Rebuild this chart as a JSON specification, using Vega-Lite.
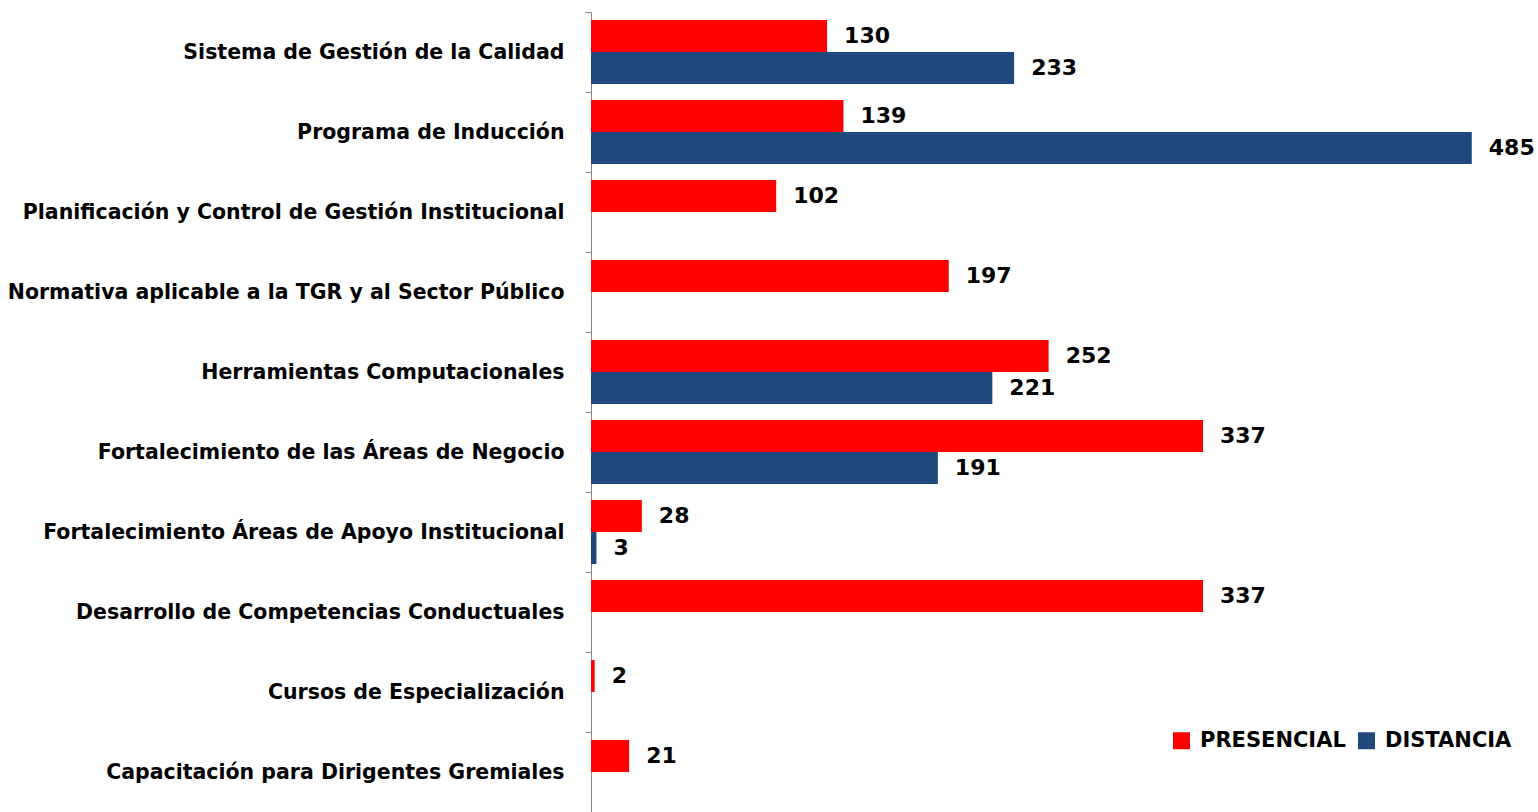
{
  "$schema": "https://vega.github.io/schema/vega-lite/v6.json",
  "autosize": {"type": "none"},
  "padding": {"left": 591, "top": 12, "right": 39, "bottom": 0},
  "width": 908,
  "height": 800,
  "config": {"view": {"stroke": null}, "font": "DejaVu Sans"},
  "data": {
    "values": [
      {"curso": "Sistema de Gestión de la Calidad", "modalidad": "PRESENCIAL", "valor": 130},
      {"curso": "Sistema de Gestión de la Calidad", "modalidad": "DISTANCIA", "valor": 233},
      {"curso": "Programa de Inducción", "modalidad": "PRESENCIAL", "valor": 139},
      {"curso": "Programa de Inducción", "modalidad": "DISTANCIA", "valor": 485},
      {"curso": "Planificación y Control de Gestión Institucional", "modalidad": "PRESENCIAL", "valor": 102},
      {"curso": "Normativa aplicable a la TGR y al Sector Público", "modalidad": "PRESENCIAL", "valor": 197},
      {"curso": "Herramientas Computacionales", "modalidad": "PRESENCIAL", "valor": 252},
      {"curso": "Herramientas Computacionales", "modalidad": "DISTANCIA", "valor": 221},
      {"curso": "Fortalecimiento de las Áreas de Negocio", "modalidad": "PRESENCIAL", "valor": 337},
      {"curso": "Fortalecimiento de las Áreas de Negocio", "modalidad": "DISTANCIA", "valor": 191},
      {"curso": "Fortalecimiento Áreas de Apoyo Institucional", "modalidad": "PRESENCIAL", "valor": 28},
      {"curso": "Fortalecimiento Áreas de Apoyo Institucional", "modalidad": "DISTANCIA", "valor": 3},
      {"curso": "Desarrollo de Competencias Conductuales", "modalidad": "PRESENCIAL", "valor": 337},
      {"curso": "Cursos de Especialización", "modalidad": "PRESENCIAL", "valor": 2},
      {"curso": "Capacitación para Dirigentes Gremiales", "modalidad": "PRESENCIAL", "valor": 21}
    ]
  },
  "encoding": {
    "y": {
      "field": "curso",
      "type": "nominal",
      "sort": [
        "Sistema de Gestión de la Calidad",
        "Programa de Inducción",
        "Planificación y Control de Gestión Institucional",
        "Normativa aplicable a la TGR y al Sector Público",
        "Herramientas Computacionales",
        "Fortalecimiento de las Áreas de Negocio",
        "Fortalecimiento Áreas de Apoyo Institucional",
        "Desarrollo de Competencias Conductuales",
        "Cursos de Especialización",
        "Capacitación para Dirigentes Gremiales"
      ],
      "scale": {"paddingInner": 0, "paddingOuter": 0},
      "axis": {
        "title": null,
        "tickBand": "extent",
        "domainColor": "#868686",
        "tickColor": "#868686",
        "tickSize": 6,
        "labelPadding": 21,
        "labelFontSize": 20.5,
        "labelFontWeight": "bold",
        "labelColor": "#000000",
        "labelLimit": 0
      }
    },
    "yOffset": {
      "field": "modalidad",
      "sort": ["PRESENCIAL", "DISTANCIA"],
      "scale": {"paddingInner": 0, "paddingOuter": 0.25}
    },
    "x": {
      "field": "valor",
      "type": "quantitative",
      "scale": {"domain": [0, 500]},
      "axis": null
    }
  },
  "layer": [
    {
      "mark": {"type": "bar"},
      "encoding": {
        "color": {
          "field": "modalidad",
          "type": "nominal",
          "scale": {"domain": ["PRESENCIAL", "DISTANCIA"], "range": ["#FF0000", "#1F497D"]},
          "legend": {
            "title": null,
            "orient": "none",
            "legendX": 580,
            "legendY": 718,
            "direction": "horizontal",
            "symbolType": "square",
            "symbolSize": 289,
            "symbolStrokeWidth": 0,
            "labelFontSize": 21,
            "labelFontWeight": "bold",
            "labelColor": "#000000",
            "labelOffset": 8,
            "columnPadding": 10
          }
        }
      }
    },
    {
      "mark": {"type": "text", "align": "left", "baseline": "middle", "dx": 17, "fontSize": 22, "fontWeight": "bold", "color": "#000000"},
      "encoding": {"text": {"field": "valor", "type": "quantitative"}}
    }
  ]
}
